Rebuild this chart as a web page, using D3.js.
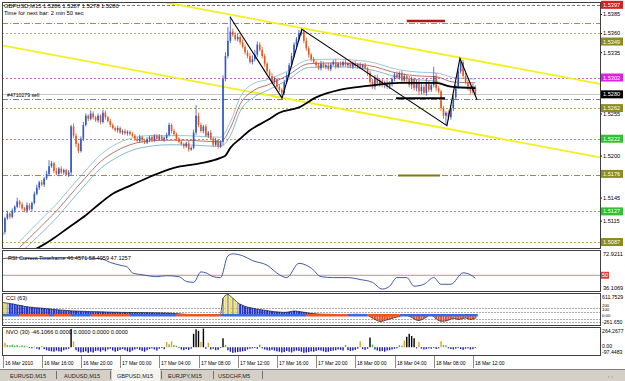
<!DOCTYPE html>
<html>
<head>
<meta charset="utf-8">
<script src="https://cdn.jsdelivr.net/npm/d3@7"></script>
<style>
body { margin: 0; background: #fff; }
svg { display: block; font-family: "Liberation Sans", Arial, sans-serif; }
</style>
</head>
<body>
<div id="chart"></div>
<script>
// DATA //

// GBPUSD M15 closes, pips above 1.5000, one bar per 15 min from 16 Mar 12:00
const firstOpen = 96;
const closes = [
  100,118,124,120, 128,133,140,136, 131,128,135,130, 138,150,158,165, 162,170,176,186, 190,180,176,183, 178,181,175,178,
  238, 226,215,206,222, 240,252,248,
  255,250,246,252,244,256,250,245,240,
  236,233,236,230,232,229,231,228,226,
  222,219,224,220,217,221,
  224,220,226,222,225,221,223,227,
  240,232, 228,222,218,215,212,216, 208,210,
  230,252,240, 232,238,226,230,
  222,214,220,212,218,
  300,330,350,362,
  358,352,355,348,
  342,335,330,322,326,
  332,345,338,330,
  320,310,304,296,300,290,286,
  282,
  296,305,318,330,345,352,360,
  362,
  350,340,332,326,322,318,
  314,320,316,318,313,319,322,316,320,318,
  322,318,320,316,321,317,319,315,318,314,
  308,296,290,302,294,
  298,292,296,290,294,
  300,306,302,308,298,304,300,
  292,300,288,296,284,
  290,282,296,286,292,304,
  288,284,262,
  252,256,250,
  262,276,290,
  310,322,
  304,296,288,
  284,290,280
];
// wick lengths in pips above / below the body
const upWick = [
  3,2,4,2,3,2,5,2,3,2,4,3,2,3,4,2,3,2,4,8,
  3,2,4,2,3,2,2,3,2,4,3,2,3,4,3,2,4,3,2,3,
  2,4,3,2,3,2,2,3,2,2,3,2,2,3,2,2,3,2,2,3,
  2,3,2,2,3,2,2,3,3,2,3,2,2,3,2,2,3,2,4,14,
  4,3,2,3,2,3,2,3,2,2,5,5,18,20,4,3,5,3,4,3,
  3,4,5,6,4,3,4,3,2,3,4,3,2,3,2,3,4,3,4,3,
  3,4,4,3,4,3,2,3,2,3,4,3,2,3,2,3,4,2,3,2,
  3,2,4,2,3,2,3,2,3,2,3,4,3,4,2,3,2,4,3,2,
  3,4,2,3,3,2,4,3,2,3,3,4,3,4,2,3,12,4,3,2,
  3,2,3,4,3,3,4,5,3,4,3,3,4,2
];
const downWick = [
  6,3,2,3,2,3,2,4,3,2,3,2,3,2,2,3,2,3,2,3,
  2,3,2,3,2,3,2,3,4,3,4,3,2,3,2,3,2,3,2,3,
  3,2,3,2,3,2,2,3,2,3,2,3,2,2,3,2,2,3,2,2,
  3,2,2,3,2,2,3,2,2,3,2,3,2,2,3,2,3,2,2,3,
  3,2,3,2,3,2,3,2,3,2,4,3,3,3,3,2,3,3,2,3,
  3,2,3,3,3,2,3,4,3,3,2,3,3,3,6,3,2,3,3,2,
  3,2,3,3,3,4,3,2,3,2,3,2,3,2,3,2,3,2,3,2,
  2,3,2,3,2,3,2,3,2,4,5,3,4,3,4,3,4,3,3,4,
  3,2,3,4,3,4,3,5,3,4,5,4,3,4,3,3,3,4,3,4,
  4,12,4,3,4,3,3,3,4,3,3,4,3,3
];

// moving averages: [bar, pips]
const bandMid = [[7,80],[15,105],[23,131],[27,146],[33,168],[40,192],[47,207],[53,215],[60,219],[67,220],[75,220],[81,219],[89,218],[93,236],[97,267],[103,286],[108,292],[116,304],[125,320],[135,321],[149,318],[162,307],[170,304],[177,303],[184,296],[193,295]];
const bandHigh = [[7,88],[15,114],[23,140],[27,155],[33,177],[40,201],[47,216],[53,223],[60,226],[67,226],[75,226],[81,225],[89,224],[93,244],[97,276],[103,295],[108,299],[116,310],[125,325],[135,326],[149,323],[162,312],[170,309],[177,308],[184,302],[193,300]];
const bandLow = [[7,72],[15,96],[23,122],[27,137],[33,159],[40,183],[47,198],[53,207],[60,212],[67,214],[75,214],[81,213],[89,212],[93,226],[97,258],[103,277],[108,285],[116,298],[125,315],[135,316],[149,313],[162,302],[170,299],[177,297],[184,290],[193,290]];
const slowMA = [[12,75],[20,90],[27,106],[34,122],[40,138],[45,150],[51,159],[60,172],[70,184],[81,190],[89,197],[91,200],[93,210],[97,222],[101,233],[108,246],[113,256],[121,263],[128,276],[138,286],[149,291],[162,295],[177,295],[183,290],[193,288]];

// drawn objects: zigzag trendlines, channel anchors, short levels
const zigzag = [[92.9,381],[114.1,275],[122.2,365],[181.4,239],[186.7,327],[193.7,273]];
const channelUpper = [[80,392],[230,302]];
const channelLower = [[20,332],[180,236]];
const shortLevels = [[165,180.6,376],[161.4,178.6,174],[160.6,180.6,275]];

// horizontal lines across the chart (pips)
const levelPrices = [397, 373, 360, 302, 280, 274, 262, 222, 174, 127, 87];
const priceTicks = [385, 360, 335, 255, 200, 145, 115];
const tagPrices = [397, 349, 302, 280, 262, 222, 176, 127, 87];

// RSI: [bar, value]
const rsi = [[0,65.7],[6,66.6],[12,65.7],[26,66.6],[40,65.7],[44,62.1],[48,59.5],[51,57.7],[53,52.3],[57,50.5],[63,48.7],[67,49.6],[72,48.7],[75,44.2],[78,43.3],[81,53.2],[83,52.3],[86,48.7],[89,47.8],[92,68.4],[94,70.2],[98,68.4],[102,63.9],[108,59.5],[113,50.5],[116,47.8],[121,61.3],[126,56.8],[130,48.7],[135,47.8],[141,47.8],[146,46.0],[151,43.3],[155,37.0],[158,39.7],[161,47.8],[165,47.8],[168,39.7],[172,41.5],[176,47.8],[179,41.5],[183,41.5],[188,52.3],[191,50.5],[193,47.1]];

// CCI(63) per bar
const cci = [
  360,350,340,330,320,310,
  290,280,270,250,240,230,225,215,
  210,205,200,190,185,180,170,165,160,150,145,140,135,130,125,120,118,115,112,110,108,105,103,100,100,98,96,
  95,92,90,88,86,85,84,82,80,80,78,78,76,75,75,74,73,72,72,70,70,68,68,66,65,64,62,
  60,55,50,45,40,35,30,25,20,20,18,15,12,
  5,-5,-10,-8,-12,-15,-10,-8,-5,
  480,560,590,540,480,420,
  350,310,280,250,230,215,
  200,185,170,160,150,140,130,120,110,100,95,90,85,80,
  85,95,110,120,115,105,95,85,75,
  60,50,45,40,35,30,30,28,25,25,22,20,20,18,15,12,10,
  15,20,25,22,18,15,10,5,
  -40,-80,-120,-150,-180,-170,-150,-130,-110,
  -90,-70,-50,-40,15,20,10,-30,-60,-100,
  -140,-150,-130,-90,-60,10,15,-40,-100,-150,
  -170,-170,-160,-140,-110,-90,-100,-120,-110,-90,
  -80,-100,-120,-110,-90
];
// trend strip on the CCI zero line: [fromBar, toBar, up?]
const cciStrip = [[0,7,1],[7,19,0],[19,21,1],[21,28,0],[28,36,1],[36,52,0],[52,71,1],[71,89,0],[89,124,1],[124,141,0],[141,149,1],[149,162,0],[162,194,1]];

// NVO(30) per bar
const nvo = [
  70,60,30,25,
  35,20,30,15,25,20,10,-10,
  -15,10,-20,-30,15,-25,-40,-50,-55,
  -60,-45,-55,-60,-40,-30,-20,
  245,80,
  -40,-60,-70,-65,-55,-75,-60,-70,-50,-45,-60,
  -40,-55,-30,-20,-45,-60,-50,-35,-25,-40,-55,-65,-45,-30,-20,-35,-50,-60,-40,-25,-15,-30,-45,-20,-10,-25,
  70,40,80,30,20,-10,
  -30,-40,-25,-35,-20,
  180,240,220,70,250,-20,60,
  -30,-20,-40,-35,-10,
  120,30,
  -40,-60,-75,-70,-65,-60,-55,-50,
  -30,-20,-15,-10,-20,35,-15,-30,-40,-45,-35,
  -45,-55,-60,-70,-65,-50,-60,-70,-55,-45,-50,-60,-75,-70,-65,-55,-60,-50,-40,-45,-55,-65,-60,-50,-45,-40,-30,-35,-45,
  30,
  -40,-50,-45,-35,-20,
  80,
  -25,-35,-20,
  130,
  35,
  -30,-45,-55,-50,-60,-45,-40,-30,-20,-15,
  30,
  20,
  90,140,180,150,120,
  -15,
  70,
  -20,-30,-25,-15,-20,-10,-25,-15,
  80,
  30,25,
  -15,-25,-30,-20,-10,-25,-35,-20,-15,-30,-25,-10
];

const timeLabels = ["16 Mar 2010","16 Mar 16:00","16 Mar 20:00","17 Mar 00:00","17 Mar 04:00","17 Mar 08:00","17 Mar 12:00","17 Mar 16:00","17 Mar 20:00","18 Mar 00:00","18 Mar 04:00","18 Mar 08:00","18 Mar 12:00"];
const tabs = ["EURUSD,M15","AUDUSD,M15","GBPUSD,M15","EURJPY,M15","USDCHF,M5"];


// LAYOUT //
const W = 625, H = 381;
const L = 2, R = 600;
const mainP = {top: 2, bottom: 248};
const rsiP = {top: 250, bottom: 291};
const cciP = {top: 293, bottom: 325};
const nvoP = {top: 327, bottom: 355};

const fmt = v => (1.5 + v / 10000).toFixed(4);

let svg = d3.select("#chart").append("svg")
  .attr("width", W).attr("height", H);

svg.append("rect").attr("width", W).attr("height", H).attr("fill", "#fff");

// clip paths for each panel
const defs = svg.append("defs");
[["cm", mainP], ["cr", rsiP], ["cc", cciP], ["cn", nvoP]].forEach(([id, p]) => {
  defs.append("clipPath").attr("id", id).append("rect")
    .attr("x", L).attr("y", p.top).attr("width", R - L).attr("height", p.bottom - p.top);
});

// SCALES //
let x = d3.scaleLinear().domain([0, 193]).range([2.5, 475.35]);
let y = d3.scaleLinear().domain([87, 385]).range([242, 14]);
let yR = d3.scaleLinear().domain([36.1069, 72.9211]).range([290, 251]);
let yC = d3.scaleLinear().domain([-261.65, 611.75]).range([324.5, 293.5]);
let yN = d3.scaleLinear().domain([-97.4483, 264.2677]).range([354.5, 327.5]);


// MAIN PANEL //
let gm = svg.append("g").attr("clip-path", "url(#cm)");

const levelStyle = {
  397: ["#555", "3,2", 0.8],
  373: ["#a0662a", "6,2,1,2", 0.8],
  360: ["#9a9a30", "2,2", 0.8],
  302: ["#c040c0", "2,2", 0.8],
  280: ["#b8b8b8", null, 0.8],
  274: ["#506070", "6,2,1,2", 0.8],
  262: ["#9a8a40", "2,2", 0.8],
  222: ["#40b040", "2,2", 0.8],
  174: ["#9a7a30", "6,2,1,2", 0.9],
  127: ["#40b040", "2,2", 0.8],
  87: ["#9a9a30", "2,2", 0.8]
};
levelPrices.forEach(p => {
  const s = levelStyle[p];
  gm.append("line")
    .attr("x1", L).attr("x2", R)
    .attr("y1", Math.round(y(p)) + 0.5).attr("y2", Math.round(y(p)) + 0.5)
    .attr("stroke", s[0]).attr("stroke-width", s[2])
    .attr("stroke-dasharray", s[1]);
});

// yellow channel, extended to both edges
function ray(a, b) {
  const slope = (b[1] - a[1]) / (b[0] - a[0]);
  const i0 = x.invert(L), i1 = x.invert(R);
  return [[i0, a[1] + slope * (i0 - a[0])], [i1, a[1] + slope * (i1 - a[0])]];
}
const line = d3.line().x(d => x(d[0])).y(d => y(d[1]));
[channelUpper, channelLower].forEach(c => {
  gm.append("path").attr("d", line(ray(c[0], c[1])))
    .attr("fill", "none").attr("stroke", "#f4f020").attr("stroke-width", 1.8);
});

// envelope bands
const curve = d3.line().x(d => x(d[0])).y(d => y(d[1])).curve(d3.curveMonotoneX);
[[bandHigh, "#86b4d4"], [bandMid, "#a5524a"], [bandLow, "#6aa6c0"]].forEach(([d, c]) => {
  gm.append("path").attr("d", curve(d))
    .attr("fill", "none").attr("stroke", c).attr("stroke-width", 0.8);
});

// candles
const bars = closes.map((c, i) => {
  const o = i ? closes[i - 1] : firstOpen;
  return {i, o, c, h: Math.max(o, c) + upWick[i], l: Math.min(o, c) - downWick[i]};
});
const upCol = "#3156c8", dnCol = "#e4571c";
let cg = gm.append("g");
cg.selectAll("line").data(bars).join("line")
  .attr("x1", d => x(d.i)).attr("x2", d => x(d.i))
  .attr("y1", d => y(d.h)).attr("y2", d => y(d.l))
  .attr("stroke", d => d.c >= d.o ? upCol : dnCol).attr("stroke-width", 0.8);
cg.selectAll("rect").data(bars).join("rect")
  .attr("x", d => x(d.i) - 0.8).attr("width", 1.6)
  .attr("y", d => y(Math.max(d.o, d.c)))
  .attr("height", d => Math.max(0.8, Math.abs(y(d.o) - y(d.c))))
  .attr("fill", d => d.c >= d.o ? upCol : dnCol);

// slow MA
gm.append("path").attr("d", curve(slowMA))
  .attr("fill", "none").attr("stroke", "#000").attr("stroke-width", 1.8);

// zigzag trendlines
gm.append("path").attr("d", line(zigzag))
  .attr("fill", "none").attr("stroke", "#000").attr("stroke-width", 1.1);

// short thick level segments
[["#b01818", 2.5], ["#807a10", 2], ["#000", 2]].forEach((s, k) => {
  const d = shortLevels[k];
  gm.append("line")
    .attr("x1", x(d[0])).attr("x2", x(d[1]))
    .attr("y1", y(d[2])).attr("y2", y(d[2]))
    .attr("stroke", s[0]).attr("stroke-width", s[1]);
});

svg.append("text").attr("x", 4).attr("y", 8).attr("font-size", 5.8).attr("fill", "#000")
  .text("GBPUSD,M15  1.5286 1.5287 1.5278 1.5280");
svg.append("text").attr("x", 4).attr("y", 15).attr("font-size", 5.8).attr("fill", "#000")
  .text("Time for next bar: 2 min 50 sec");
svg.append("text").attr("x", 7).attr("y", 97).attr("font-size", 5.2).attr("fill", "#000")
  .text("#4710279 sell");

// price axis
let ax = svg.append("g").attr("transform", `translate(${R},0)`)
  .call(d3.axisRight(y).tickValues(priceTicks).tickFormat(fmt).tickSize(2).tickPadding(1));
ax.select(".domain").remove();
ax.selectAll("text").attr("font-size", 5.6).attr("fill", "#000").attr("font-family", "Liberation Sans, Arial");
ax.selectAll("line").attr("stroke", "#000");

const tagColor = {397: "#d42020", 349: "#8c8c20", 302: "#e020e0", 280: "#000", 262: "#8c8c20", 222: "#30c030", 176: "#8c8c20", 127: "#30c030", 87: "#8c8c20"};
tagPrices.forEach(p => {
  const yy = y(p);
  svg.append("rect").attr("x", R + 1).attr("y", yy - 4).attr("width", 22).attr("height", 8)
    .attr("fill", tagColor[p]);
  svg.append("text").attr("x", R + 3).attr("y", yy + 2).attr("font-size", 5.6)
    .attr("fill", "#fff").text(fmt(p));
});


// RSI PANEL //
let gr = svg.append("g").attr("clip-path", "url(#cr)");
gr.append("line").attr("x1", L).attr("x2", R).attr("y1", yR(50)).attr("y2", yR(50))
  .attr("stroke", "#c07070").attr("stroke-width", 0.8);
gr.append("path").attr("d", d3.line().x(d => x(d[0])).y(d => yR(d[1])).curve(d3.curveMonotoneX)(rsi))
  .attr("fill", "none").attr("stroke", "#2c4a9a").attr("stroke-width", 0.9);
svg.append("text").attr("x", 8).attr("y", 260).attr("font-size", 5.6).attr("fill", "#000")
  .text("RSI Current Timeframe 46.4571 58.4959 47.1257");
svg.append("text").attr("x", R + 3).attr("y", 256).attr("font-size", 5.6).text("72.9211");
svg.append("rect").attr("x", R + 1).attr("y", yR(50) - 3.5).attr("width", 8).attr("height", 7).attr("fill", "#e04040");
svg.append("text").attr("x", R + 2).attr("y", yR(50) + 2).attr("font-size", 5.6).attr("fill", "#fff").text("50");
svg.append("text").attr("x", R + 3).attr("y", 290).attr("font-size", 5.6).text("36.1069");


// CCI PANEL //
let gc = svg.append("g").attr("clip-path", "url(#cc)");
[200, 100, -100, -200].forEach(v => {
  gc.append("line").attr("x1", L).attr("x2", R)
    .attr("y1", Math.round(yC(v)) + 0.5).attr("y2", Math.round(yC(v)) + 0.5)
    .attr("stroke", "#707070").attr("stroke-width", 0.6).attr("stroke-dasharray", "2,1");
});
gc.selectAll("rect.c").data(cci).join("rect").attr("class", "c")
  .attr("x", (d, i) => x(i) - 1).attr("width", 2)
  .attr("y", d => yC(Math.max(0, d))).attr("height", d => Math.abs(yC(d) - yC(0)))
  .attr("fill", (d, i) => d > 330 ? (i % 2 ? "#f0e040" : "#a8a8a8") : d > 0 ? "#2436c8" : "#ee5522");
gc.append("path").attr("d", d3.line().x((d, i) => x(i)).y(d => yC(d))(cci))
  .attr("fill", "none").attr("stroke", "#000").attr("stroke-width", 0.6);
cciStrip.forEach(s => {
  gc.append("line").attr("x1", x(s[0])).attr("x2", x(s[1]))
    .attr("y1", yC(0)).attr("y2", yC(0))
    .attr("stroke", s[2] ? "#3a6ae0" : "#ee5522").attr("stroke-width", 2.6);
});
svg.append("text").attr("x", 6).attr("y", 300).attr("font-size", 5.6).text("CCI  (63)");
[["611.7529", 299, 5.2], ["200", 306.5, 4.3], ["100", 311, 4.3], ["0.00", 316.5, 4.3], ["-261.650", 324, 5.2]].forEach(t => {
  svg.append("text").attr("x", R + 2).attr("y", t[1]).attr("font-size", t[2]).text(t[0]);
});


// NVO PANEL //
let gn = svg.append("g").attr("clip-path", "url(#cn)");
gn.selectAll("rect").data(nvo).join("rect")
  .attr("x", (d, i) => x(i) - 0.7).attr("width", 1.4)
  .attr("y", d => yN(Math.max(0, d))).attr("height", d => Math.abs(yN(d) - yN(0)))
  .attr("fill", d => d >= 120 ? "#000" : d >= 50 ? "#e8a020" : d > 0 ? "#40c040" : "#1c1ca8");
svg.append("text").attr("x", 6).attr("y", 334).attr("font-size", 5.6)
  .text("NVO (30) -46.1066 0.0000 0.0000 0.0000 0.0000");
[["264.2677", 333], ["0.00", 348], ["-97.4483", 354]].forEach(t => {
  svg.append("text").attr("x", R + 2).attr("y", t[1]).attr("font-size", 5.2).text(t[0]);
});


// FRAMES //
[mainP, rsiP, cciP, nvoP].forEach(p => {
  svg.append("rect").attr("x", L + 0.5).attr("y", p.top + 0.5)
    .attr("width", R - L).attr("height", p.bottom - p.top)
    .attr("fill", "none").attr("stroke", "#404040").attr("stroke-width", 1);
});


// TIME AXIS //
timeLabels.forEach((t, k) => {
  const xx = Math.round(x(k * 16)) + 0.5;
  svg.append("line").attr("x1", xx).attr("x2", xx).attr("y1", 356).attr("y2", 368)
    .attr("stroke", "#404040").attr("stroke-width", 0.6);
  svg.append("text").attr("x", xx + 1.5).attr("y", 365).attr("font-size", 5).text(t);
});


// TABS //
svg.append("rect").attr("x", 0).attr("y", 369).attr("width", W).attr("height", 12).attr("fill", "#d4d0c8");
svg.append("line").attr("x1", 0).attr("x2", W).attr("y1", 369.5).attr("y2", 369.5).attr("stroke", "#808080");
svg.append("rect").attr("x", 112).attr("y", 369).attr("width", 48).attr("height", 12).attr("fill", "#f4f3ee");
const tabX = [10, 64, 117, 168, 218];
tabs.forEach((t, k) => {
  svg.append("text").attr("x", tabX[k]).attr("y", 377.5).attr("font-size", 5.6).attr("fill", "#222").text(t);
});
[56, 110, 161, 213, 262].forEach(xx => {
  svg.append("line").attr("x1", xx + 0.5).attr("x2", xx + 0.5).attr("y1", 371).attr("y2", 379)
    .attr("stroke", "#707070");
});
svg.append("text").attr("x", 608).attr("y", 378).attr("font-size", 5).attr("fill", "#888").text("\u2039   \u203A");
</script>
</body>
</html>
